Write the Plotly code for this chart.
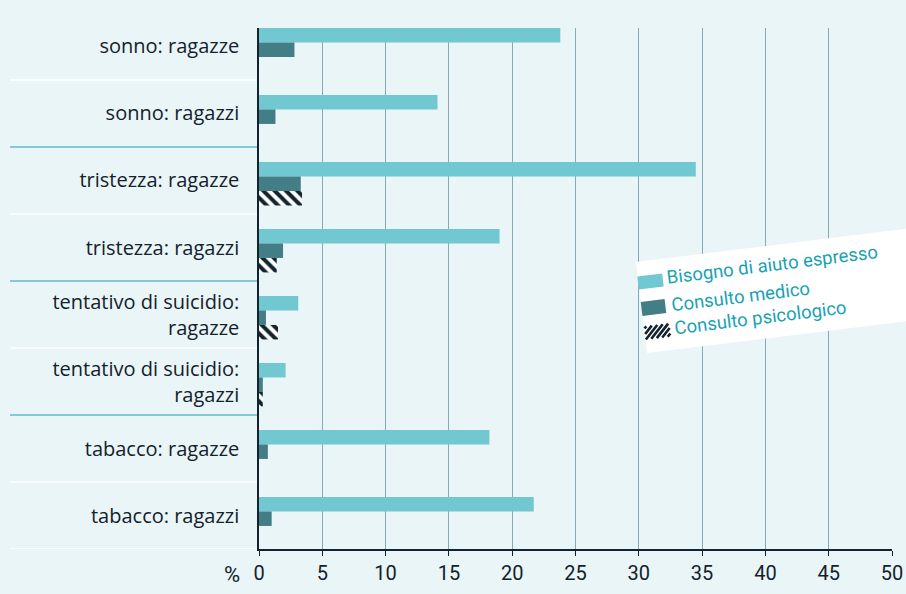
import math
import plotly.graph_objects as go

# ---- data ----
categories = [
    "sonno: ragazze",
    "sonno: ragazzi",
    "tristezza: ragazze",
    "tristezza: ragazzi",
    "tentativo di suicidio:<br>ragazze",
    "tentativo di suicidio:<br>ragazzi",
    "tabacco: ragazze",
    "tabacco: ragazzi",
]
bisogno = [23.8, 14.1, 34.5, 19.0, 3.1, 2.1, 18.2, 21.7]
medico = [2.8, 1.3, 3.3, 1.9, 0.55, 0.3, 0.7, 1.0]
psicologico = [None, None, 3.4, 1.4, 1.5, 0.3, None, None]
series_names = ["Bisogno di aiuto espresso", "Consulto medico", "Consulto psicologico"]
x_ticks = list(range(0, 51, 5))

# ---- styling ----
W, H = 906, 594
L, R, T, B = 259, 14, 28, 45
BG = "#EAF5F7"
DARK = "#13222C"
TEAL = "#1AA2B3"
C_BIS = "#72C8D1"
C_MED = "#437D85"
NARROW = "Roboto, sans-serif"

bw = 0.216
off0 = -0.276

fig = go.Figure()
fig.add_trace(go.Bar(y=categories, x=bisogno, orientation="h", name=series_names[0],
                     marker=dict(color=C_BIS, line=dict(width=0)),
                     width=bw, offset=off0))
fig.add_trace(go.Bar(y=categories, x=medico, orientation="h", name=series_names[1],
                     marker=dict(color=C_MED, line=dict(width=0)),
                     width=bw, offset=off0 + bw))
fig.add_trace(go.Bar(y=categories, x=psicologico, orientation="h", name=series_names[2],
                     marker=dict(color="white", line=dict(width=0),
                                 pattern=dict(shape="\\", fgcolor=DARK, bgcolor="white",
                                              size=8, solidity=0.5, fillmode="replace")),
                     width=bw, offset=off0 + 2 * bw))

pw = W - L - R
ph = H - T - B


def px2x(px):
    return (px - L) / pw


def py2y(py):
    return (H - B - py) / ph


shapes = []
# row separators in the label margin
for b in [0.5, 1.5, 2.5, 3.5, 4.5, 5.5, 6.5, 7.5]:
    col = TEAL if b in (1.5, 3.5, 5.5) else "white"
    wdt = 1.2 if col == TEAL else 1.6
    shapes.append(dict(type="line", xref="paper", yref="y", x0=px2x(10), x1=0,
                       y0=b, y1=b, line=dict(color=col, width=wdt), layer="below"))

# rotated legend box
ang = math.radians(7)
ca, sa = math.cos(ang), math.sin(ang)


def path_from_px(pts):
    return "M " + " L ".join(f"{px2x(x):.5f},{py2y(y):.5f}" for x, y in pts) + " Z"


def rot(cx, cy, u, v):
    # u along rotated text direction (rising to the right), v downward
    return (cx + u * ca + v * sa, cy - u * sa + v * ca)


t = math.tan(ang)
box = [(636, 262), (930, 262 - 294 * t), (930, 353 - 283 * t), (647, 353)]
shapes.append(dict(type="path", xref="paper", yref="paper", path=path_from_px(box),
                   fillcolor="white", line=dict(width=0), layer="above"))


def rect(cx, cy, w, h):
    return [rot(cx, cy, -w / 2, -h / 2), rot(cx, cy, w / 2, -h / 2),
            rot(cx, cy, w / 2, h / 2), rot(cx, cy, -w / 2, h / 2)]


shapes.append(dict(type="path", xref="paper", yref="paper", path=path_from_px(rect(650.5, 281.5, 25, 13)),
                   fillcolor=C_BIS, line=dict(width=0), layer="above"))
shapes.append(dict(type="path", xref="paper", yref="paper", path=path_from_px(rect(653.5, 307.5, 24, 14)),
                   fillcolor=C_MED, line=dict(width=0), layer="above"))
# striped swatch
sw, sh, scx, scy = 25, 13, 657.5, 331.5
u0 = -sw / 2 - sh / 2 + 2
while u0 < sw / 2 + sh / 2:
    s_lo = max(-sh / 2, -sw / 2 - u0)
    s_hi = min(sh / 2, sw / 2 - u0)
    if s_hi > s_lo:
        p1 = rot(scx, scy, u0 + s_lo, -s_lo)
        p2 = rot(scx, scy, u0 + s_hi, -s_hi)
        shapes.append(dict(type="line", xref="paper", yref="paper",
                           x0=px2x(p1[0]), y0=py2y(p1[1]), x1=px2x(p2[0]), y1=py2y(p2[1]),
                           line=dict(color=DARK, width=2.6), layer="above"))
    u0 += 5.5

annotations = []
for name, (cx, cy) in zip(series_names, [(772, 265), (740, 297), (760, 318)]):
    annotations.append(dict(text=name, xref="paper", yref="paper", x=px2x(cx), y=py2y(cy),
                            xanchor="center", yanchor="middle", showarrow=False, textangle=-7,
                            font=dict(family=NARROW, size=18.5, color=TEAL)))
annotations.append(dict(text="%", xref="paper", yref="paper", x=px2x(232), y=py2y(574),
                        xanchor="center", yanchor="middle", showarrow=False,
                        font=dict(family="Roboto, sans-serif", size=22, color=DARK)))

fig.update_layout(
    width=W, height=H,
    autosize=False,
    margin=dict(l=L, r=R, t=T, b=B, pad=0, autoexpand=False),
    paper_bgcolor=BG, plot_bgcolor=BG,
    barmode="overlay",
    showlegend=False,
    shapes=shapes,
    annotations=annotations,
    xaxis=dict(range=[0, 50], tickvals=x_ticks, ticktext=[str(v) for v in x_ticks],
               automargin=False,
               showgrid=True, gridcolor="#84AAB2", gridwidth=1, zeroline=False,
               showline=True, linecolor=DARK, linewidth=1.5,
               ticks="outside", ticklen=5, tickcolor=DARK, tickwidth=1,
               tickfont=dict(family=NARROW, size=20, color=DARK)),
    yaxis=dict(range=[7.5, -0.276], type="category", showgrid=False, zeroline=False,
               automargin=False,
               showline=True, linecolor=DARK, linewidth=1.5, ticks="",
               ticklabelstandoff=14,
               tickfont=dict(family="Open Sans, sans-serif", size=20, color=DARK)),
)

fig.write_html("out.html", config={"displayModeBar": False},
               post_script="document.body.style.margin='0';document.body.style.background='%s';" % BG)
